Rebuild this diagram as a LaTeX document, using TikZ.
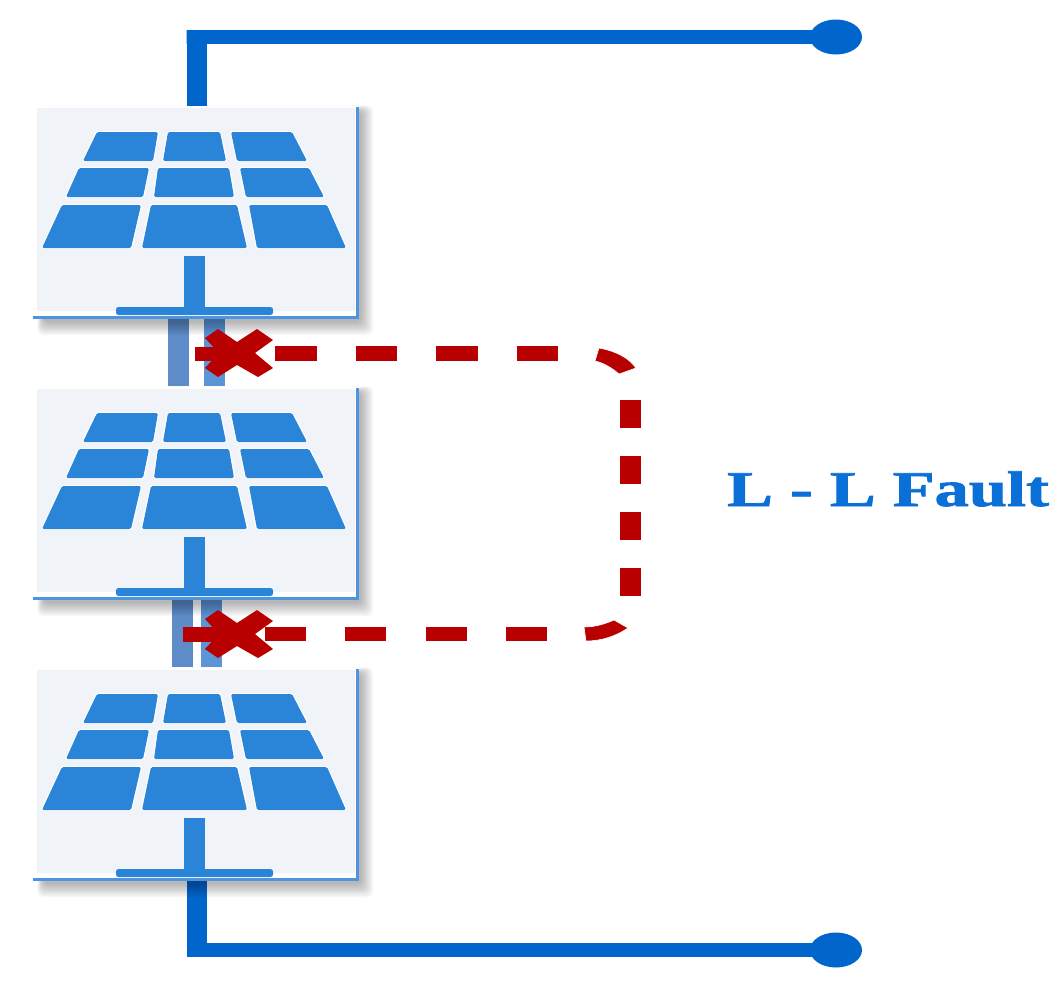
\documentclass[tikz,border=0pt]{standalone}
\usetikzlibrary{shapes.geometric}
\usepackage{fontspec}
\setmainfont{Liberation Serif}
\definecolor{wireblue}{HTML}{0066CC}
\definecolor{cellblue}{HTML}{2A84D8}
\definecolor{edgeblue}{HTML}{4E94DE}
\definecolor{panelbg}{HTML}{F0F3F7}
\definecolor{faultred}{HTML}{B80000}
\definecolor{labelblue}{HTML}{0A6FD6}
\definecolor{barA}{HTML}{5E8CC8}
\definecolor{barB}{HTML}{5C94D6}
\tikzset{
  wire/.style={draw=wireblue,line width=14pt,line join=miter},
  vwire/.style={draw=wireblue,line width=20pt},
  terminal/.style={ellipse,fill=wireblue,minimum width=52pt,minimum height=35pt,inner sep=0pt},
  panelbox/.style={rectangle,fill=white,minimum width=326pt,minimum height=212pt,inner sep=0pt},
  solarcell/.style={fill=cellblue,rounded corners=1.5pt,preaction={draw=white,line width=2.4pt,rounded corners=1.5pt}},
  tiebar/.style={line width=21pt},
  faulth/.style={draw=faultred,line width=14.5pt},
  faultv/.style={draw=faultred,line width=21pt},
  faultfill/.style={fill=faultred,draw=white,line width=.6pt},
}
\newcommand{\solarpanel}[2]{%
  \begin{scope}[yshift=-#2pt]
    \foreach \s in {1,...,11}{
      \fill[black,opacity=.028,rounded corners=6pt]
        ({44-\s*.6},{112-\s*.6}) rectangle ({360+\s*1.2},{321+\s*1.3});
    }
    \node[panelbox] (#1) at (196,212) {};
    \fill[panelbg] (37,108) rectangle (355,311);
    \fill[white] (33,311) rectangle (356,317);
    % array
    \path[solarcell] (97,132) -- (158,132) -- (153,161) -- (83,161) -- cycle;
    \path[solarcell] (168,132) -- (220,132) -- (226,161) -- (163,161) -- cycle;
    \path[solarcell] (231,132) -- (292,132) -- (307,161) -- (237,161) -- cycle;
    \path[solarcell] (79,168) -- (149,168) -- (143,197) -- (66,197) -- cycle;
    \path[solarcell] (158,168) -- (229,168) -- (234,197) -- (154,197) -- cycle;
    \path[solarcell] (240,168) -- (309,168) -- (324,197) -- (246,197) -- cycle;
    \path[solarcell] (62,205) -- (141,205) -- (131,248) -- (42,248) -- cycle;
    \path[solarcell] (151,205) -- (237,205) -- (247,248) -- (142,248) -- cycle;
    \path[solarcell] (249,205) -- (327,205) -- (346,248) -- (257,248) -- cycle;
    % stand
    \fill[cellblue] (184,256) rectangle (205,309);
    \fill[cellblue,rounded corners=2.5pt] (116,307) rectangle (273,315);
    % edge lines
    \fill[edgeblue] (356,107) rectangle (359,319);
    \fill[edgeblue] (33,316) rectangle (359,319);
  \end{scope}
}
\begin{document}
\begin{tikzpicture}[x=1pt,y=-1pt]
  \useasboundingbox (0,0) rectangle (1057,986);
  \fill[white] (0,0) rectangle (1057,986);

  % terminals and free-end coordinates
  \node[terminal] (dotA) at (836,37) {};
  \node[terminal] (dotB) at (836,950) {};
  \coordinate (wireTop) at (196.5,108);
  \coordinate (wireBot) at (196.5,879);
  \coordinate (barAa) at (178.5,318);
  \coordinate (barAb) at (178.5,386);
  \coordinate (barBa) at (214,318);
  \coordinate (barBb) at (214,386);
  \coordinate (barCa) at (182,598);
  \coordinate (barCb) at (182,667);
  \coordinate (barDa) at (211.5,598);
  \coordinate (barDb) at (211.5,667);

  % wires and tie bars lie under the panel shadows
  \draw[wire] (dotA.center) -- (186.5,37) -- (196.5,37);
  \draw[vwire] (196.5,30) -- (wireTop);
  \draw[wire] (dotB.center) -- (196.5,950);
  \draw[vwire] (wireBot) -- (196.5,957);
  \draw[tiebar,draw=barA] (barAa) -- (barAb);
  \draw[tiebar,draw=barB] (barBa) -- (barBb);
  \draw[tiebar,draw=barA] (barCa) -- (barCb);
  \draw[tiebar,draw=barB] (barDa) -- (barDb);

  \solarpanel{p1}{0}
  \solarpanel{p2}{281}
  \solarpanel{p3}{562}

  % L-L fault path
  \coordinate (f1a) at (275,353.5);
  \coordinate (f1b) at (560,353.5);
  \coordinate (f2a) at (265,634);
  \coordinate (f2b) at (548,634);
  \coordinate (fva) at (630.5,400);
  \coordinate (fvb) at (630.5,597);
  \draw[faulth,dash pattern=on 41.5pt off 39pt] (f1a) -- (f1b);
  \draw[faulth,dash pattern=on 41pt off 39.3pt] (f2a) -- (f2b);
  \draw[faultv,dash pattern=on 28pt off 28pt] (fva) -- (fvb);
  \path[faultfill] (599,348) .. controls (615,351) and (628,357) .. (636,368)
     -- (619,374) .. controls (612,368) and (604,363) .. (595,361) -- cycle;
  \path[faultfill] (584,627) .. controls (595,627) and (605,624) .. (614,620)
     -- (628,628) .. controls (616,636) and (602,641) .. (586,641) -- cycle;

  % stubs and crosses
  \draw[faulth] (195,354) -- (240,354);
  \draw[faulth] (183,634.5) -- (240,634.5);
  \foreach \yy in {0,281}{
    \fill[faultred,shift={(0,\yy)}]
      (205,338) -- (218,329) -- (237,342) -- (257,329) -- (273,340) -- (255,353)
      -- (273,368) -- (258,377) -- (237,365) -- (218,377) -- (205,368) -- (219,353) -- cycle;
  }

  % label
  \node[anchor=base west,inner sep=0pt,text=labelblue] (faultlabel) at (727,506)
    {\scalebox{1.37}[1]{\fontsize{50}{50}\selectfont\bfseries\addfontfeature{FakeBold=1.5}L - L Fault}};
\end{tikzpicture}
\end{document}
